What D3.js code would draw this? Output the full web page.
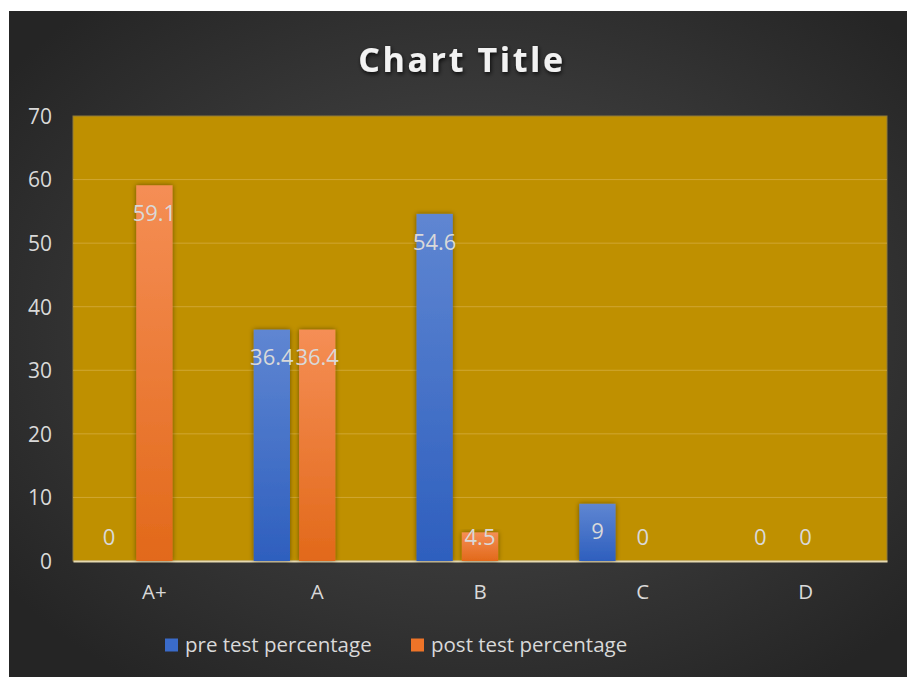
<!DOCTYPE html>
<html>
<head>
<meta charset="utf-8">
<script src="https://cdn.jsdelivr.net/npm/d3@7/dist/d3.min.js"></script>
<style>
  html, body { margin: 0; padding: 0; background: #ffffff; }
  svg { display: block; }
</style>
</head>
<body>
<svg id="chart" width="907" height="677"></svg>
<script>
const categories = ["A+", "A", "B", "C", "D"];
const preValues = [0, 36.4, 54.6, 9, 0];
const postValues = [59.1, 36.4, 4.5, 0, 0];
const seriesNames = ["pre test percentage", "post test percentage"];
const yTickValues = [0, 10, 20, 30, 40, 50, 60, 70];
const titleText = "Chart Title";

const W = 907, H = 677;
const svg = d3.select("#chart");
const defs = svg.append("defs");

const bg = defs.append("radialGradient").attr("id", "bgGrad")
  .attr("cx", "52%").attr("cy", "48%").attr("r", "65%");
bg.append("stop").attr("offset", "0%").attr("stop-color", "#4f4f4f");
bg.append("stop").attr("offset", "100%").attr("stop-color", "#252525");

const blueGrad = defs.append("linearGradient").attr("id", "blueGrad")
  .attr("x1", 0).attr("y1", 0).attr("x2", 0).attr("y2", 1);
blueGrad.append("stop").attr("offset", "0%").attr("stop-color", "#5f86d2");
blueGrad.append("stop").attr("offset", "100%").attr("stop-color", "#2e5fbe");
const orangeGrad = defs.append("linearGradient").attr("id", "orangeGrad")
  .attr("x1", 0).attr("y1", 0).attr("x2", 0).attr("y2", 1);
orangeGrad.append("stop").attr("offset", "0%").attr("stop-color", "#f58e55");
orangeGrad.append("stop").attr("offset", "100%").attr("stop-color", "#e2691a");

const shadow = defs.append("filter").attr("id", "barShadow")
  .attr("x", "-40%").attr("y", "-10%").attr("width", "180%").attr("height", "120%");
shadow.append("feDropShadow").attr("dx", 0).attr("dy", 0)
  .attr("stdDeviation", 2.5).attr("flood-color", "#000").attr("flood-opacity", 0.45);

const tshadow = defs.append("filter").attr("id", "titleShadow")
  .attr("x", "-10%").attr("y", "-30%").attr("width", "120%").attr("height", "160%");
tshadow.append("feDropShadow").attr("dx", 1).attr("dy", 2)
  .attr("stdDeviation", 2).attr("flood-color", "#000").attr("flood-opacity", 0.8);

svg.append("rect").attr("x", 9).attr("y", 11).attr("width", W - 9).attr("height", H - 11)
  .attr("fill", "url(#bgGrad)");

const plot = { left: 73, right: 887, top: 116, bottom: 561 };
const colors = ["url(#blueGrad)", "url(#orangeGrad)"];
const legendColors = ["#3a6bc9", "#ee7428"];

const x0 = d3.scaleBand().domain(categories).range([plot.left, plot.right]);
// three series slots per category (third slot is empty), as in the source chart
const groupW = 127;
const x1 = d3.scaleBand().domain(d3.range(3)).range([0, groupW]).paddingInner(0.2).paddingOuter(0);
const y = d3.scaleLinear().domain([0, 70]).range([plot.bottom, plot.top]);

svg.append("rect").attr("x", plot.left).attr("y", plot.top)
  .attr("width", plot.right - plot.left).attr("height", plot.bottom - plot.top)
  .attr("fill", "#bf9000").attr("stroke", "#8f7a3a").attr("stroke-width", 1);

svg.append("g").selectAll("line").data(yTickValues.filter(v => v > 0 && v < 70)).join("line")
  .attr("x1", plot.left).attr("x2", plot.right)
  .attr("y1", d => y(d)).attr("y2", d => y(d))
  .attr("stroke", "#d4ac3e").attr("stroke-opacity", 0.8).attr("stroke-width", 1);

const fontFam = "'Open Sans', 'Noto Sans', sans-serif";
const textCol = "#d9d9d9";

const yAxis = d3.axisLeft(y).tickValues(yTickValues).tickSize(0).tickPadding(0);
const gy = svg.append("g").attr("transform", `translate(52,0)`).call(yAxis);
gy.select(".domain").remove();
gy.selectAll("text").attr("fill", textCol).attr("font-size", 21).attr("font-family", fontFam)
  .attr("text-anchor", "end").attr("x", 0).attr("dy", "0.35em");

const xAxis = d3.axisBottom(x0).tickSize(0).tickPadding(0);
const gx = svg.append("g").attr("transform", `translate(0,${plot.bottom})`).call(xAxis);
gx.select(".domain").attr("stroke", "#e6d9b0").attr("stroke-width", 2);
gx.selectAll("text").attr("fill", textCol).attr("font-size", 20.5).attr("font-family", fontFam)
  .attr("y", 31).attr("dy", "0.35em");

const data = categories.map((c, i) => ({ cat: c, vals: [preValues[i], postValues[i]] }));
const groups = svg.append("g").selectAll("g").data(data).join("g")
  .attr("transform", d => `translate(${x0(d.cat) + (x0.bandwidth() - groupW) / 2},0)`);

groups.selectAll("rect").data(d => d.vals.map((v, s) => ({ v, s }))).join("rect")
  .filter(d => d.v > 0)
  .attr("x", d => x1(d.s)).attr("width", x1.bandwidth())
  .attr("y", d => y(d.v)).attr("height", d => y(0) - y(d.v))
  .attr("fill", d => colors[d.s]).attr("filter", "url(#barShadow)");

groups.selectAll("text").data(d => d.vals.map((v, s) => ({ v, s }))).join("text")
  .attr("x", d => x1(d.s) + x1.bandwidth() / 2)
  .attr("y", d => Math.min(y(d.v) + 28, 537))
  .attr("dy", "0.35em").attr("text-anchor", "middle")
  .attr("fill", textCol).attr("font-size", 22).attr("font-family", fontFam)
  .text(d => String(d.v));

svg.append("text").attr("x", 462).attr("y", 60).attr("dy", "0.35em")
  .attr("text-anchor", "middle").attr("fill", "#f2f2f2")
  .attr("font-size", 34).attr("font-weight", "bold").attr("letter-spacing", 2.6)
  .attr("font-family", fontFam).attr("filter", "url(#titleShadow)")
  .text(titleText);

const legendX = [165, 411];
const lg = svg.append("g").selectAll("g").data(seriesNames).join("g")
  .attr("transform", (d, i) => `translate(${legendX[i]},645)`);
lg.append("rect").attr("x", 0).attr("y", -6.5).attr("width", 13).attr("height", 13)
  .attr("fill", (d, i) => legendColors[i]);
lg.append("text").attr("x", 20).attr("dy", "0.35em").attr("fill", textCol)
  .attr("font-size", 20.5).attr("font-family", fontFam).text(d => d);
</script>
</body>
</html>
